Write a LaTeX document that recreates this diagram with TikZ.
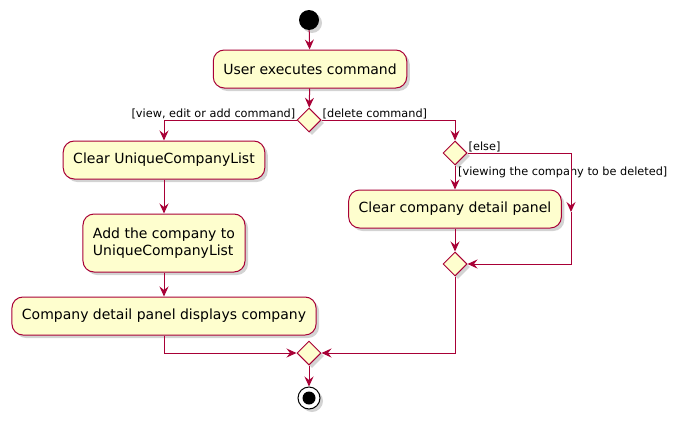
\documentclass[tikz,border=0pt]{standalone}
\usepackage{fontspec}
\setmainfont{DejaVu Sans}
\usepackage{tikz}
\usetikzlibrary{positioning,arrows.meta,shapes.geometric,shadows}
\definecolor{umlred}{HTML}{A80036}
\definecolor{umlfill}{HTML}{FEFECE}
\tikzset{act/.style={draw=umlred,fill=umlfill,rounded corners=11pt,line width=1pt,
minimum height=38pt,inner xsep=10pt,font=\fontsize{14}{17}\selectfont,text=black,
drop shadow={opacity=0.35,shadow xshift=3pt,shadow yshift=-3pt}},
dec/.style={draw=umlred,fill=umlfill,diamond,minimum size=24pt,inner sep=0pt,line width=1pt,
drop shadow={opacity=0.35,shadow xshift=3pt,shadow yshift=-3pt}},
flow/.style={draw=umlred,line width=1pt,-{Stealth[length=10pt,width=9pt,inset=3.5pt]}},
guard/.style={font=\fontsize{11.3}{13}\selectfont,text=black,inner sep=1pt}}

\begin{document}
\begin{tikzpicture}[x=1pt,y=-1pt]
	\useasboundingbox (0,0) rectangle (679,423);
	% start and end
	\node[circle,fill=black,minimum size=20pt,inner sep=0pt,
	drop shadow={opacity=0.35,shadow xshift=3pt,shadow yshift=-3pt}] (start) at (309,20){};
	\node[circle,draw=black,fill=white,minimum size=22pt,inner sep=0pt,line width=1pt,
	drop shadow={opacity=0.35,shadow xshift=3pt,shadow yshift=-3pt}] (stop) at (309,398){};
	\node[circle,fill=black,minimum size=13pt,inner sep=0pt] at (stop){};
	% actions
	\node[act] (exec) at (310,69){User executes command};
	\node[act] (clear) at (164,160){Clear UniqueCompanyList};
	\node[act,align=left,minimum height=58pt] (add) at (164,243){Add the company to\\UniqueCompanyList};
	\node[act] (disp) at (164,316){Company detail panel displays company};
	\node[act] (panel) at (455,209){Clear company detail panel};
	% decisions
	\node[dec] (d1) at (309,120){};
	\node[dec] (d2) at (455,153){};
	\node[dec] (d3) at (455,264){};
	\node[dec] (merge) at (309,353){};
	\coordinate (elsemid) at (571,212);
	% guards
	\node[guard,anchor=south east] at (d1.west){[view, edit or add command]};
	\node[guard,anchor=south west] at (d1.east){[delete command]};
	\node[guard,anchor=south west] at (d2.east){[else]};
	\node[guard,anchor=north west] at ([xshift=2pt]d2.south){[viewing the company to be deleted]};
	% flows
	\draw[flow] (start) -- (exec);
	\draw[flow] (exec) -- (d1);
	\draw[flow] (d1.west) -| (clear.north);
	\draw[flow] (clear) -- (add);
	\draw[flow] (add) -- (disp);
	\draw[flow] (disp.south) |- (merge.west);
	\draw[flow] (d1.east) -| (d2.north);
	\draw[flow] (d2.south) -- (panel.north);
	\draw[flow] (panel.south) -- (d3.north);
	\draw[flow] (d2.east) -| (elsemid);
	\draw[flow] (elsemid) |- (d3.east);
	\draw[flow] (d3.south) |- (merge.east);
	\draw[flow] (merge) -- (stop);
\end{tikzpicture}
\end{document}
